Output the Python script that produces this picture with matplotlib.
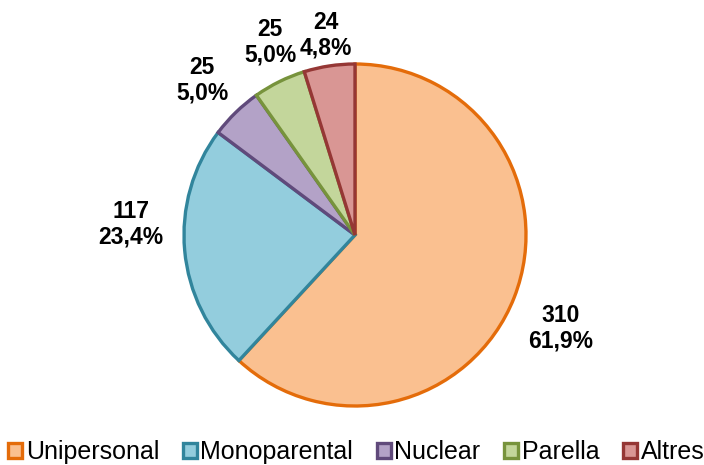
import numpy as np
import matplotlib.pyplot as plt
from matplotlib.patches import Patch

plt.rcParams['font.family'] = ['Liberation Sans', 'DejaVu Sans']

# data
categories = ['Unipersonal', 'Monoparental', 'Nuclear', 'Parella', 'Altres']
values = [310, 117, 25, 25, 24]
pct_labels = ['61,9%', '23,4%', '5,0%', '5,0%', '4,8%']
fills = ['#FAC090', '#93CDDD', '#B3A2C7', '#C3D69B', '#D99694']
edges = ['#E46C0A', '#31859C', '#604A7B', '#77933C', '#953735']
label_dist = [1.32, 1.31, 1.27, 1.23, 1.18]
label_shift = [-3, -8, 0.5, -2.4, -0.4]  # degrees

fig = plt.figure(figsize=(7.04, 4.65), dpi=100)
cx, cy, r = 355, 235, 171
ax = fig.add_axes([(cx - r) / 704, (465 - cy - r) / 465, 2 * r / 704, 2 * r / 465])

wedges, _ = ax.pie(values, colors=fills, startangle=90, counterclock=False,
                   wedgeprops=dict(linewidth=2.4))
for w, ec in zip(wedges, edges):
    w.set_edgecolor(ec)
    w.set_joinstyle('miter')
    w.set_clip_on(False)

for w, v, p, d, s in zip(wedges, values, pct_labels, label_dist, label_shift):
    ang = np.deg2rad((w.theta1 + w.theta2) / 2 + s)
    ax.text(d * np.cos(ang), d * np.sin(ang), f'{v}\n{p}', ha='center', va='center',
            fontsize=16.5, fontweight='bold', linespacing=1.15)

ax.set_xlim(-1, 1)
ax.set_ylim(-1, 1)

handles = [Patch(facecolor=f, edgecolor=e, linewidth=2.4) for f, e in zip(fills, edges)]
fig.legend(handles, categories, loc='center', bbox_to_anchor=(0.506, 1 - 452 / 465), ncol=5,
           frameon=False, fontsize=18, handlelength=0.55, handleheight=0.55,
           handletextpad=0.15, columnspacing=0.95, borderpad=0)

fig.savefig('out.png', dpi=100)
